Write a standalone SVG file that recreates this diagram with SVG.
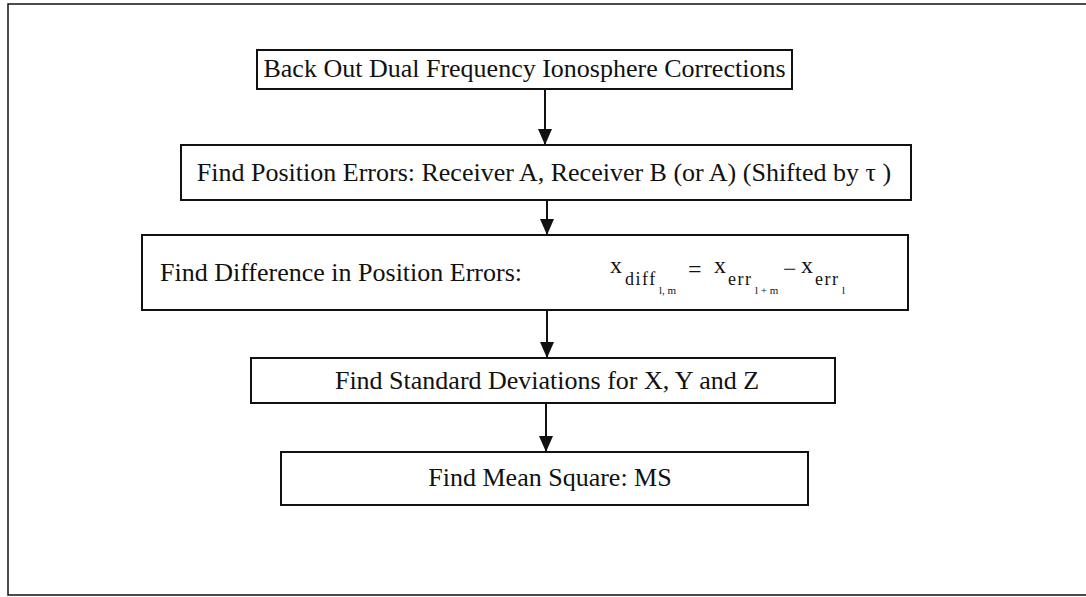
<svg xmlns="http://www.w3.org/2000/svg" width="1086" height="597" viewBox="0 0 1086 597">
<style>
.box{fill:#fff;stroke:#111;stroke-width:2}
.t{font-family:"Liberation Serif","Times New Roman",serif;font-size:26px;fill:#111;font-variant-ligatures:none}
.f{font-family:"Liberation Serif","Times New Roman",serif;fill:#111;font-variant-ligatures:none}
.c{stroke:#111;stroke-width:2;fill:none}
</style>
<defs>
<marker id="ah" markerWidth="16" markerHeight="14" refX="16" refY="7" orient="auto" markerUnits="userSpaceOnUse" viewBox="0 0 16 14">
<path d="M0,0 L16,7 L0,14 Z" fill="#111"/>
</marker>
</defs>
<rect x="0" y="0" width="1086" height="597" fill="#fff"/>
<path d="M1090,4 L8,4 L8,595 L1090,595" fill="none" stroke="#111" stroke-width="1.5"/>
<g id="connectors">
<line class="c" x1="545" y1="89" x2="545" y2="145" marker-end="url(#ah)"/>
<line class="c" x1="547" y1="200" x2="547" y2="235" marker-end="url(#ah)"/>
<line class="c" x1="547" y1="310" x2="547" y2="358" marker-end="url(#ah)"/>
<line class="c" x1="546" y1="403" x2="546" y2="452" marker-end="url(#ah)"/>
</g>
<g id="n1">
<rect class="box" x="257" y="50" width="535" height="39"/>
<text class="t" font-size="25" x="524.5" y="77" text-anchor="middle">Back Out Dual Frequency Ionosphere Corrections</text>
</g>
<g id="n2">
<rect class="box" x="181" y="145" width="730" height="55"/>
<text class="t" x="544" y="181" text-anchor="middle">Find Position Errors: Receiver A, Receiver B (or A) (Shifted by  τ )</text>
</g>
<g id="n3">
<rect class="box" x="142" y="235" width="766" height="75"/>
<text class="t" x="160" y="281">Find Difference in Position Errors:</text>
<text class="f" font-size="24" x="610" y="273">x</text>
<text class="f" font-size="18" x="625" y="285" letter-spacing="1.5">diff</text>
<text class="f" font-size="11" x="659" y="294">l, m</text>
<text class="f" font-size="24" x="688" y="277">=</text>
<text class="f" font-size="24" x="714" y="273">x</text>
<text class="f" font-size="18" x="728" y="285" letter-spacing="1.5">err</text>
<text class="f" font-size="11" x="755" y="294">l + m</text>
<text class="f" font-size="24" x="783" y="277">−</text>
<text class="f" font-size="24" x="801" y="273">x</text>
<text class="f" font-size="18" x="815" y="285" letter-spacing="1.5">err</text>
<text class="f" font-size="11" x="842" y="294">l</text>
</g>
<g id="n4">
<rect class="box" x="251" y="358" width="584" height="45"/>
<text class="t" x="547" y="389" text-anchor="middle">Find Standard Deviations for X, Y and Z</text>
</g>
<g id="n5">
<rect class="box" x="281" y="452" width="527" height="53"/>
<text class="t" x="550" y="486" text-anchor="middle">Find Mean Square: MS</text>
</g>
</svg>
